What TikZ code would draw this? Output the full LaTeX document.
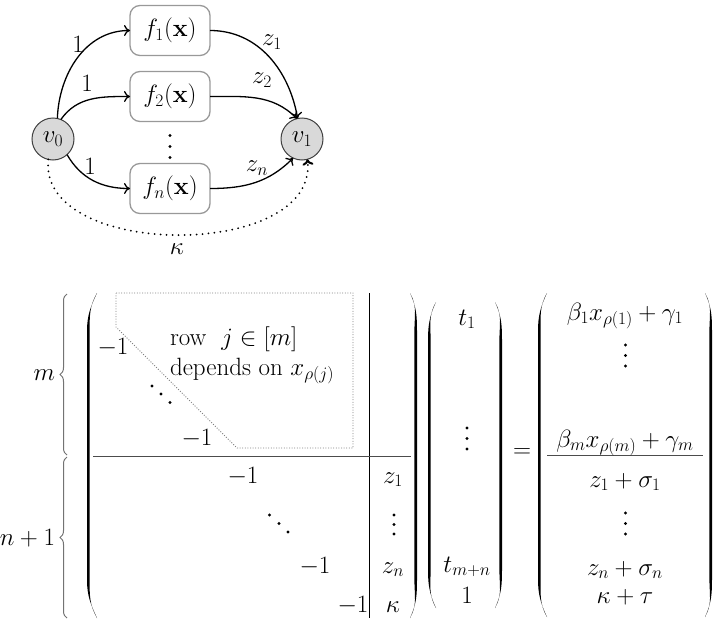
\RequirePackage{fix-cm}
\documentclass[tikz,border=0pt]{standalone}
\usepackage{amsmath}
\usetikzlibrary{decorations.pathreplacing,arrows.meta}
\newcommand\myLP[4]{\fill (#2,#3) to[out=-115,in=90] (#1,#3+38) -- (#1,#4-38) to[out=-90,in=115] (#2,#4) to[out=120,in=-90] (#1+2.6,#4-38) -- (#1+2.6,#3+38) to[out=90,in=-120] (#2,#3) -- cycle;}
\newcommand\myRP[4]{\fill (#2,#3) to[out=-65,in=90] (#1,#3+38) -- (#1,#4-38) to[out=-90,in=65] (#2,#4) to[out=60,in=-90] (#1-2.6,#4-38) -- (#1-2.6,#3+38) to[out=90,in=-60] (#2,#3) -- cycle;}
\newcommand\mydot[2]{\fill (#1,#2) circle[radius=1.6pt];}
\begin{document}
\begin{tikzpicture}[x=1pt,y=-1pt,
  every node/.style={font=\fontsize{25}{30}\selectfont, inner sep=0pt, outer sep=0pt},
  vert/.style={circle, draw=black!75, fill=black!15, line width=1pt, minimum size=42pt},
  fbox/.style={rectangle, rounded corners=10pt, draw=black!40, line width=1.3pt, minimum width=80pt, minimum height=50pt},
  flow/.style={line width=1.3pt, -{Computer Modern Rightarrow[length=6pt,width=11pt]}},
  kdot/.style={line width=2pt, dash pattern=on 0pt off 6pt, line cap=round},
  ent/.style={anchor=base},
  brc/.style={draw=black!55, line width=1pt, decorate, decoration={brace, amplitude=7pt}},
  ]
\useasboundingbox (0,0) rectangle (715,624);
% ---- graph ----
\node[vert] (v0) at (53,139) {$v_0$};
\node[vert] (v1) at (302,139) {$v_1$};
\node[fbox] (f1) at (170,30.5) {$f_1(\mathbf{x})$};
\node[fbox] (f2) at (170,96.5) {$f_2(\mathbf{x})$};
\node[fbox] (fn) at (170,188.5) {$f_n(\mathbf{x})$};
\draw[flow] (v0.78) to[out=88,in=180] (f1.west);
\draw[flow] (v0.68) to[out=55,in=180] (f2.west);
\draw[flow] (v0.-48) to[out=-60,in=180] (fn.west);
\draw[flow] (f1.east) to[out=0,in=100] (v1.102);
\draw[flow] (f2.east) to[out=0,in=135] (v1.104);
\draw[flow] (fn.east) to[out=0,in=-135] (v1.-115);
\draw[flow,kdot] (v0.-103) .. controls (38,260) and (318,260) .. (v1.-75);
\node (l1) at (78,44) {$1$};
\node (l2) at (87,83) {$1$};
\node (l3) at (90,166) {$1$};
\node (lz1) at (272,42) {$z_1$};
\node (lz2) at (262,80) {$z_2$};
\node (lzn) at (257,168) {$z_n$};
\node (lk) at (177,249) {$\kappa$};
\mydot{170}{135.5}\mydot{170}{146.5}\mydot{170}{157.5}
% ---- braces ----
\draw[brc] (67,455) -- (67,294);
\draw[brc] (67,618) -- (67,457);
\node[anchor=east] (lm) at (55,375) {$m$};
\node[anchor=east] (ln) at (55,538) {$n+1$};
% ---- parentheses ----
\myLP{87}{97}{293}{618}
\myRP{417}{410}{293}{618}
\myLP{428}{436}{302}{608}
\myRP{502}{495}{302}{608}
\myLP{538}{547}{293}{617}
\myRP{712}{705}{293}{617}
% ---- matrix lines ----
\draw[line width=0.9pt] (369,293) -- (369,618);
\draw[line width=0.9pt, black!70] (93,456) -- (411,456);
\draw[line width=0.9pt, black!70] (547,455) -- (703,455);
\draw[black!50, line width=0.8pt, dash pattern=on 1pt off 1.6pt] (116,293) -- (353,293) -- (353,448) -- (237,448) -- (116,327) -- cycle;
% ---- matrix entries ----
\node[ent] (m1) at (113,354) {$-1$};
\node[ent] (m2) at (197,445) {$-1$};
\node[ent] (m3) at (243,483) {$-1$};
\node[ent] (m4) at (315,573) {$-1$};
\node[ent] (m5) at (353,612) {$-1$};
\node[ent] (c1) at (393,483) {$z_1$};
\node[ent] (c2) at (393,573) {$z_n$};
\node[ent] (c3) at (393,612) {$\kappa$};
\node[anchor=base west] (r1) at (170,345) {row \ $j\in[m]$};
\node[anchor=base west] (r2) at (170,375) {depends on $x_{\rho(j)}$};
\mydot{152}{386}\mydot{161}{394}\mydot{170}{402.5}
\mydot{269.5}{515}\mydot{279}{523.5}\mydot{288}{532}
\mydot{394}{515}\mydot{394}{524.5}\mydot{394}{534}
% ---- vector t ----
\node[ent] (t1) at (467,325) {$t_1$};
\node[ent] (t2) at (467,572) {$t_{m+n}$};
\node[ent] (t3) at (467,603) {$1$};
\mydot{467}{428}\mydot{467}{438.5}\mydot{467}{449}
\node (eq) at (522,453) {$=$};
% ---- right-hand side ----
\node[ent] (s1) at (625,320) {$\beta_1 x_{\rho(1)}+\gamma_1$};
\node[ent] (s2) at (625,447) {$\beta_m x_{\rho(m)}+\gamma_m$};
\node[ent] (s3) at (625,487) {$z_1+\sigma_1$};
\node[ent] (s4) at (625,575) {$z_n+\sigma_n$};
\node[ent] (s5) at (625,603) {$\kappa+\tau$};
\mydot{625.5}{345}\mydot{625.5}{355.5}\mydot{625.5}{366}
\mydot{625.5}{513}\mydot{625.5}{523.5}\mydot{625.5}{534}
\end{tikzpicture}
\end{document}
